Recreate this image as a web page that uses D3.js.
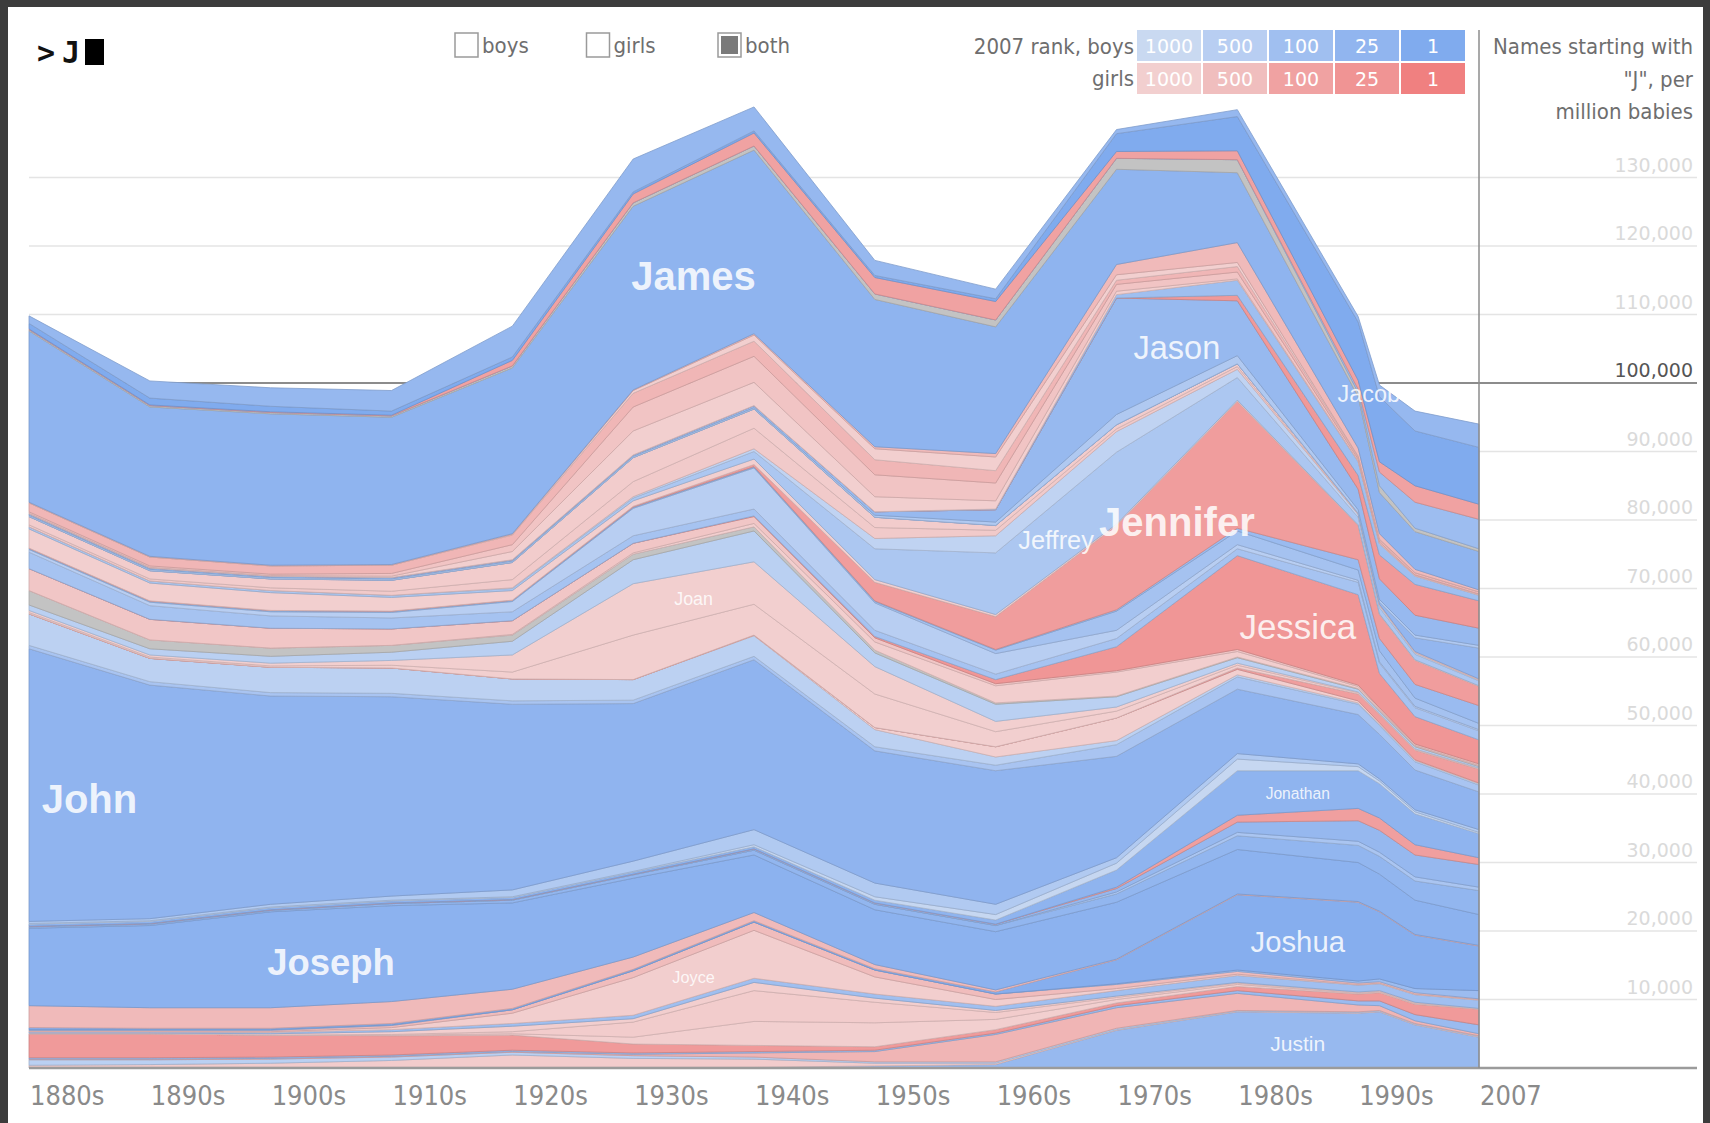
<!DOCTYPE html>
<html>
<head>
<meta charset="utf-8">
<script src="https://cdn.jsdelivr.net/npm/d3@7"></script>
<style>
  body { margin: 0; background: #3c3c3c; overflow: hidden; }
  svg { display: block; }
</style>
</head>
<body>
<svg id="chart" width="1710" height="1123"></svg>
<script>
// time points: decades, then a few points through 2007
var years = [1880, 1890, 1900, 1910, 1920, 1930, 1940, 1950, 1960, 1970, 1980, 1990, 1993, 1998, 2007];
var tickYears = [1880, 1890, 1900, 1910, 1920, 1930, 1940, 1950, 1960, 1970, 1980, 1990, 2007];
var tickLabels = ["1880s", "1890s", "1900s", "1910s", "1920s", "1930s", "1940s", "1950s", "1960s", "1970s", "1980s", "1990s", "2007"];
var yTicks = [10000, 20000, 30000, 40000, 50000, 60000, 70000, 80000, 90000, 100000, 110000, 120000, 130000];

// names from top of the stack to the bottom
var names = ["Jack", "Jacob", "Jacqueline", "Jaden", "Jaime", "James",
  "Jamie", "Jan", "Jane", "Janet", "Janice", "Jared", "Jasmine", "Jason", "Jay", "Jayden",
  "Jean", "Jeanette", "Jeffery", "Jeffrey", "Jennie", "Jennifer", "Jeremiah", "Jeremy", "Jerry", "Jesse",
  "Jessica", "Jessie", "Jill", "Jim", "Jimmy", "Joan", "Joann", "Jocelyn", "Jodi", "Joe", "Joel",
  "John", "Johnny", "Jon", "Jonathan", "Jordan", "Jordan", "Jorge", "Jose", "Joseph", "Josephine",
  "Joshua", "Josiah", "Joy", "Joyce", "Juan", "Juanita", "Judith", "Judy", "Julia", "Julian",
  "Julie", "Julius", "June", "Justin"];
var sexes = ["M", "M", "F", "M", "M", "M",
  "F", "F", "F", "F", "F", "M", "F", "M", "M", "M",
  "F", "F", "M", "M", "F", "F", "M", "M", "M", "M",
  "F", "F", "F", "M", "M", "F", "F", "F", "F", "M", "M",
  "M", "M", "M", "M", "F", "M", "M", "M", "M", "F",
  "M", "M", "F", "F", "M", "F", "F", "F", "F", "M",
  "F", "M", "F", "M"];
// 2007 rank (0 = not in the top 1000)
var ranks = [40, 1, 96, 75, 0, 17,
  390, 1000, 310, 650, 980, 95, 40, 45, 300, 30,
  900, 800, 700, 230, 1000, 60, 55, 140, 500, 150,
  30, 700, 950, 0, 550, 1000, 1000, 70, 1000, 600, 180,
  20, 310, 900, 16, 75, 38, 190, 28, 10, 400,
  3, 70, 450, 950, 100, 950, 900, 990, 45, 60,
  300, 550, 900, 45];

// babies per million, in thousands, one row per name
var perMillion = [
  [1.1, 2.5, 2.7, 3.0, 4.5, 4.8, 3.5, 2.2, 1.4, 0.6, 1.0, 0.8, 1.7, 2.9, 3.4],
  [0.8, 1.0, 0.8, 0.6, 0.5, 0.3, 0.3, 0.3, 0.4, 2.6, 5.0, 8.5, 9.5, 8.0, 8.3],
  [0.1, 0.1, 0.1, 0.1, 0.8, 1.3, 1.9, 2.4, 2.7, 1.0, 1.3, 1.3, 1.5, 2.4, 2.2],
  [0, 0, 0, 0, 0, 0, 0, 0, 0, 0, 0, 0.5, 2.0, 3.8, 4.3],
  [0.2, 0.2, 0.2, 0.2, 0.3, 0.5, 0.6, 0.8, 1.0, 1.6, 1.9, 0.6, 1.0, 0.5, 0.4],
  [25.0, 21.8, 22.1, 21.5, 24.2, 26.8, 26.8, 21.5, 18.5, 13.9, 10.2, 7.5, 6.0, 5.5, 5.6],
  [0.1, 0.1, 0.1, 0.1, 0.1, 0.1, 0.2, 0.3, 0.5, 1.5, 2.9, 1.2, 0.8, 0.5, 0.3],
  [0, 0, 0, 0, 0.1, 0.4, 0.9, 1.6, 2.0, 0.8, 0.6, 0.1, 0.1, 0, 0],
  [1.3, 1.3, 1.2, 1.2, 1.4, 2.0, 2.2, 2.2, 1.8, 0.6, 0.8, 0.3, 0.3, 0.3, 0.3],
  [0.2, 0.2, 0.2, 0.4, 1.0, 3.5, 3.8, 3.2, 2.6, 1.0, 1.0, 0.3, 0.2, 0.1, 0.1],
  [0.1, 0.1, 0.1, 0.2, 1.2, 3.5, 3.4, 2.2, 1.2, 0.5, 0.2, 0.1, 0.1, 0.1, 0.1],
  [0, 0, 0, 0, 0, 0, 0, 0, 0.1, 0.5, 2.2, 2.0, 1.6, 1.2, 0.8],
  [0, 0, 0, 0, 0, 0, 0, 0, 0, 0, 0.8, 2.0, 3.5, 4.5, 4.0],
  [0.2, 0.2, 0.2, 0.2, 0.2, 0.2, 0.3, 0.5, 1.8, 17.0, 8.0, 3.0, 3.0, 2.9, 2.5],
  [0.2, 0.2, 0.2, 0.2, 0.2, 0.2, 0.2, 0.3, 0.5, 1.5, 1.2, 0.5, 0.4, 0.4, 0.4],
  [0, 0, 0, 0, 0, 0, 0, 0, 0, 0, 0, 0, 0.3, 2.0, 4.5],
  [1.2, 1.2, 1.3, 1.6, 2.5, 3.5, 2.8, 1.5, 0.7, 0.6, 0.4, 0.1, 0.1, 0.1, 0.1],
  [0.3, 0.3, 0.4, 0.6, 1.2, 2.2, 3.0, 1.6, 0.8, 0.4, 0.4, 0.1, 0.1, 0.1, 0.1],
  [0, 0, 0, 0, 0.1, 0.2, 0.4, 1.5, 2.5, 3.0, 1.2, 0.4, 0.3, 0.2, 0.1],
  [0.3, 0.3, 0.3, 0.3, 0.3, 0.4, 1.1, 4.5, 9.0, 10.5, 3.3, 1.1, 0.9, 0.8, 0.7],
  [2.8, 2.6, 2.6, 2.0, 1.4, 0.8, 0.8, 0.4, 0.3, 0.2, 0.2, 0.1, 0.1, 0.1, 0.1],
  [0, 0, 0, 0, 0, 0.1, 0.3, 2.7, 4.8, 12.3, 18.5, 5.0, 3.5, 3.5, 2.8],
  [0.1, 0.1, 0.1, 0.1, 0.1, 0.1, 0.1, 0.1, 0.1, 0.2, 0.4, 1.5, 1.8, 2.0, 2.6],
  [0.1, 0.1, 0.1, 0.1, 0.1, 0.1, 0.1, 0.2, 0.5, 2.8, 2.0, 1.5, 1.6, 1.2, 0.9],
  [0.4, 0.5, 0.6, 0.8, 1.5, 4.0, 6.0, 4.0, 3.0, 1.2, 0.6, 0.3, 0.2, 0.2, 0.2],
  [2.4, 2.0, 1.8, 1.6, 1.3, 1.1, 1.0, 0.9, 0.8, 1.2, 1.0, 1.8, 1.5, 1.3, 1.3],
  [0, 0, 0, 0, 0, 0, 0.1, 0.2, 0.6, 3.5, 13.7, 13.2, 5.0, 4.0, 3.5],
  [3.2, 3.0, 2.9, 2.4, 2.0, 1.4, 1.0, 0.6, 0.3, 0.2, 0.3, 0.2, 0.2, 0.2, 0.2],
  [0, 0, 0, 0, 0.1, 0.2, 0.5, 1.2, 2.5, 3.5, 0.8, 0.3, 0.2, 0.1, 0.1],
  [2.1, 1.3, 1.2, 1.0, 0.9, 0.8, 0.6, 0.4, 0.2, 0.1, 0.1, 0.1, 0.1, 0.1, 0.1],
  [0.8, 0.9, 1.0, 1.2, 2.0, 3.5, 4.5, 2.0, 2.5, 1.5, 0.8, 0.4, 0.3, 0.3, 0.2],
  [0.3, 0.3, 0.4, 0.7, 2.5, 7.5, 6.2, 4.0, 1.5, 0.6, 0.3, 0.1, 0.1, 0.1, 0.1],
  [0.2, 0.2, 0.2, 0.4, 1.0, 6.5, 4.5, 4.9, 2.2, 1.0, 0.4, 0.2, 0.1, 0.1, 0.1],
  [0, 0, 0, 0, 0, 0, 0, 0, 0, 0, 0.2, 1.0, 1.2, 1.4, 2.0],
  [0, 0, 0, 0, 0, 0, 0.1, 0.3, 1.5, 3.3, 0.8, 0.3, 0.2, 0.1, 0.1],
  [4.6, 3.4, 3.7, 3.7, 3.2, 3.0, 3.0, 2.5, 1.2, 0.6, 0.3, 0.2, 0.2, 0.2, 0.2],
  [0.5, 0.5, 0.5, 0.5, 0.5, 0.5, 0.5, 0.6, 0.8, 1.7, 1.8, 1.5, 1.3, 1.2, 1.0],
  [39.8, 34.1, 30.4, 29.1, 27.1, 23.0, 24.8, 19.3, 19.5, 14.8, 9.4, 7.2, 6.5, 5.8, 5.5],
  [0.3, 0.3, 0.4, 0.6, 1.0, 1.5, 2.2, 2.0, 1.5, 0.8, 0.8, 0.4, 0.3, 0.3, 0.4],
  [0.1, 0.1, 0.1, 0.1, 0.1, 0.1, 0.3, 0.5, 0.8, 1.0, 1.7, 0.6, 0.4, 0.3, 0.2],
  [0.3, 0.3, 0.3, 0.3, 0.3, 0.3, 0.3, 0.4, 0.6, 2.5, 6.5, 5.5, 5.0, 4.5, 3.5],
  [0, 0, 0, 0, 0, 0, 0, 0, 0, 0.2, 1.0, 1.8, 1.8, 1.5, 1.0],
  [0.1, 0.1, 0.1, 0.1, 0.1, 0.1, 0.2, 0.2, 0.2, 0.5, 1.5, 3.0, 3.2, 3.2, 3.3],
  [0, 0, 0, 0, 0, 0, 0, 0, 0, 0.3, 0.5, 0.6, 0.6, 0.6, 0.5],
  [0.2, 0.2, 0.2, 0.3, 0.4, 0.5, 0.7, 0.8, 0.9, 1.2, 2.0, 2.5, 2.6, 2.8, 3.5],
  [11.3, 12.0, 14.0, 14.0, 12.6, 11.5, 8.4, 8.0, 8.5, 8.3, 6.5, 5.7, 5.4, 5.0, 4.5],
  [3.2, 3.0, 3.0, 3.2, 2.8, 1.8, 1.2, 0.6, 0.3, 0.1, 0.1, 0.1, 0.1, 0.1, 0.1],
  [0.3, 0.2, 0.2, 0.2, 0.2, 0.2, 0.2, 0.2, 0.3, 3.5, 11.0, 11.5, 9.8, 7.8, 6.5],
  [0.1, 0.1, 0.1, 0.1, 0, 0, 0, 0, 0, 0.1, 0.2, 0.3, 0.4, 0.6, 1.2],
  [0.2, 0.2, 0.2, 0.3, 0.5, 1.0, 1.2, 1.0, 0.8, 0.6, 0.4, 0.2, 0.2, 0.2, 0.1],
  [0, 0, 0.1, 0.3, 1.5, 5.5, 7.0, 2.5, 1.0, 0.3, 0.2, 0.1, 0.1, 0.1, 0.1],
  [0.2, 0.2, 0.2, 0.3, 0.4, 0.5, 0.6, 0.6, 0.6, 0.8, 1.0, 1.0, 1.0, 1.1, 1.2],
  [0.1, 0.1, 0.2, 0.4, 0.8, 0.5, 1.2, 0.6, 0.3, 0.2, 0.1, 0.1, 0.1, 0.1, 0.1],
  [0, 0, 0, 0.1, 0.3, 2.2, 4.5, 3.0, 1.0, 0.3, 0.2, 0.1, 0.1, 0.1, 0],
  [0, 0, 0, 0.1, 0.2, 1.0, 3.5, 3.5, 1.5, 0.5, 0.3, 0.1, 0.1, 0.1, 0],
  [3.5, 3.5, 3.2, 2.8, 2.2, 1.3, 0.9, 0.5, 0.5, 0.4, 0.6, 1.0, 1.2, 1.5, 2.3],
  [0.2, 0.2, 0.2, 0.2, 0.2, 0.2, 0.2, 0.2, 0.2, 0.3, 0.4, 0.6, 0.7, 0.9, 1.3],
  [0.1, 0.1, 0.1, 0.1, 0.1, 0.2, 0.6, 1.5, 4.0, 3.0, 2.5, 1.0, 0.7, 0.4, 0.3],
  [0.8, 0.7, 0.6, 0.5, 0.4, 0.4, 0.3, 0.2, 0.2, 0.2, 0.1, 0.1, 0.1, 0.1, 0.1],
  [0.3, 0.4, 0.6, 1.0, 1.8, 1.3, 1.2, 0.4, 0.2, 0.1, 0.1, 0.1, 0.1, 0.1, 0.1],
  [0.1, 0.1, 0.1, 0.1, 0.1, 0.1, 0.1, 0.3, 0.5, 5.5, 8.2, 8.0, 8.2, 6.3, 4.5]
];

// names that get a label inside their band
var labelled = ["Jacob", "James", "Jason", "Jeffrey", "Jennifer", "Jessica", "Joan",
  "John", "Jonathan", "Joseph", "Joshua", "Joyce", "Justin"];

// 2007 rank legend
var rankStops = [1000, 500, 100, 25, 1];
var boyShades = ["#c9d9f1", "#b8cef2", "#a0bff0", "#91b5ef", "#80abee"];
var girlShades = ["#f2cfcf", "#f0bebe", "#f0a2a2", "#f09494", "#f08080"];

var NARROW = '"Liberation Sans Narrow", "DejaVu Sans Condensed", "Arial Narrow", sans-serif';
var SANS = '"Liberation Sans", Arial, sans-serif';

var boyColor = d3.scaleLog().domain(rankStops).range(boyShades).clamp(true);
var girlColor = d3.scaleLog().domain(rankStops).range(girlShades).clamp(true);
function shade(k) {
  if (!ranks[k]) return "#c3c3c3";
  return sexes[k] === "M" ? boyColor(ranks[k]) : girlColor(ranks[k]);
}

var X0 = 29, X1 = 1479, BASE = 1068, RIGHT = 1697;
var x = d3.scaleLinear().domain([1880, 1990, 2007]).range([X0, X0 + (X1 - X0) * 11 / 12, X1]);
var y = d3.scaleLinear().domain([0, 100000]).range([BASE, 383]);

var svg = d3.select("#chart");
svg.append("rect").attr("width", 1710).attr("height", 1123).attr("fill", "#3c3c3c");
svg.append("rect").attr("x", 8).attr("y", 7).attr("width", 1695).attr("height", 1116).attr("fill", "#fff");

// gridlines sit under the stream
var grid = svg.append("g");
grid.selectAll("line").data(yTicks).join("line")
  .attr("x1", X0).attr("x2", RIGHT)
  .attr("y1", d => y(d)).attr("y2", d => y(d))
  .attr("stroke", d => d === 100000 ? "#8c8c8c" : "#e4e4e4")
  .attr("stroke-width", d => d === 100000 ? 2 : 1.5);
grid.selectAll("text").data(yTicks).join("text")
  .attr("x", 1693).attr("y", d => y(d) - 6)
  .attr("text-anchor", "end")
  .attr("font-family", "DejaVu Sans").attr("font-size", 19)
  .attr("fill", d => d === 100000 ? "#555" : "#dadada")
  .text(d3.format(","));

var keys = d3.range(names.length).reverse();   // bottom of stack first
var stack = d3.stack().keys(keys).value((t, k) => perMillion[k][t] * 1000);
var layers = stack(d3.range(years.length));

var area = d3.area()
  .x(d => x(years[d.data]))
  .y0(d => y(d[0]))
  .y1(d => y(d[1]));

svg.append("g").selectAll("path").data(layers).join("path")
  .attr("d", area)
  .attr("fill", d => shade(d.key))
  .attr("stroke", d => d3.color(shade(d.key)).darker(0.45))
  .attr("stroke-width", 0.8)
  .attr("stroke-linejoin", "round");

// axes
svg.append("line").attr("x1", X0).attr("x2", RIGHT).attr("y1", BASE).attr("y2", BASE)
  .attr("stroke", "#9b9b9b").attr("stroke-width", 2.5);
svg.append("line").attr("x1", X1).attr("x2", X1).attr("y1", 30).attr("y2", BASE)
  .attr("stroke", "#8c8c8c").attr("stroke-width", 1.5);

svg.append("g").selectAll("text").data(tickYears).join("text")
  .attr("x", d => x(d) + 1).attr("y", 1105)
  .attr("font-family", NARROW).attr("font-size", 27).attr("fill", "#8a8a8a")
  .text((d, i) => tickLabels[i]);

// labels: placed at the middle of the segment where the band is thickest,
// sized from the band thickness there
var xs = years.map(x);
var labels = [];
layers.forEach(layer => {
  var name = names[layer.key];
  if (labelled.indexOf(name) < 0) return;
  var best = null;
  for (var i = 0; i < xs.length - 1; i++) {
    var top = (y(layer[i][1]) + y(layer[i + 1][1])) / 2;
    var bot = (y(layer[i][0]) + y(layer[i + 1][0])) / 2;
    if (!best || bot - top > best.room) best = { x: (xs[i] + xs[i + 1]) / 2, cy: (top + bot) / 2, room: bot - top };
  }
  best.f = Math.min(40, best.room * 0.38);
  best.name = name;
  labels.push(best);
});
svg.append("g").selectAll("text").data(labels).join("text")
  .attr("x", d => d.x).attr("y", d => d.cy + d.f * 0.5)
  .attr("text-anchor", "middle")
  .attr("font-family", SANS)
  .attr("font-size", d => d.f).attr("font-weight", d => d.f >= 36 ? "bold" : "normal")
  .attr("fill", "#fff").attr("fill-opacity", 0.85)
  .text(d => d.name);

// prompt
svg.append("text").attr("x", 37).attr("y", 63)
  .attr("font-family", "DejaVu Sans Mono").attr("font-weight", "bold").attr("font-size", 30)
  .attr("fill", "#111").text(">");
svg.append("text").attr("x", 62).attr("y", 63)
  .attr("font-family", "DejaVu Sans Mono").attr("font-weight", "bold").attr("font-size", 30)
  .attr("fill", "#111").text("J");
svg.append("rect").attr("x", 85).attr("y", 39).attr("width", 19).attr("height", 26).attr("fill", "#000");

// sex toggles
var toggles = ["boys", "girls", "both"];
var tg = svg.append("g").selectAll("g").data(toggles).join("g")
  .attr("transform", (d, i) => "translate(" + (455 + i * 131.5) + ",33)");
tg.append("rect").attr("width", 23).attr("height", 24)
  .attr("fill", "#fff").attr("stroke", "#9a9a9a").attr("stroke-width", 1.5);
tg.filter(d => d === "both").append("rect")
  .attr("x", 3).attr("y", 3).attr("width", 17).attr("height", 18).attr("fill", "#7a7a7a");
tg.append("text").attr("x", 27).attr("y", 20)
  .attr("font-family", NARROW).attr("font-size", 22).attr("fill", "#6e6e6e")
  .text(d => d);

// rank legend
var legend = svg.append("g");
legend.append("text").attr("x", 1134).attr("y", 54).attr("text-anchor", "end")
  .attr("font-family", NARROW).attr("font-size", 22).attr("fill", "#6e6e6e").text("2007 rank, boys");
legend.append("text").attr("x", 1134).attr("y", 86).attr("text-anchor", "end")
  .attr("font-family", NARROW).attr("font-size", 22).attr("fill", "#6e6e6e").text("girls");
[boyShades, girlShades].forEach((shades, r) => {
  var row = legend.append("g").selectAll("g").data(rankStops).join("g")
    .attr("transform", (d, i) => "translate(" + (1137 + i * 66) + "," + (30 + r * 33) + ")");
  row.append("rect").attr("width", 64).attr("height", 31).attr("fill", (d, i) => shades[i]);
  row.append("text").attr("x", 32).attr("y", 23).attr("text-anchor", "middle")
    .attr("font-family", "DejaVu Sans").attr("font-size", 19).attr("fill", "#fff")
    .text(d => d);
});

// axis title
["Names starting with", "\"J\", per", "million babies"].forEach((s, i) => {
  svg.append("text").attr("x", 1693).attr("y", 54 + i * 32.5).attr("text-anchor", "end")
    .attr("font-family", NARROW).attr("font-size", 22).attr("fill", "#6e6e6e").text(s);
});
</script>
</body>
</html>
